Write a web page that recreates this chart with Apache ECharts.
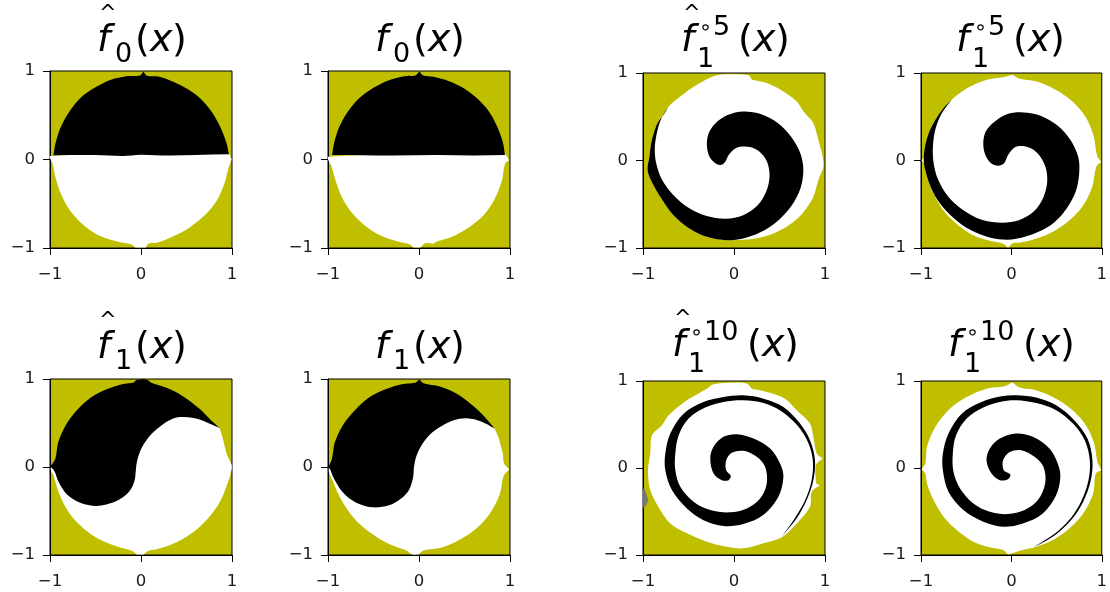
<!DOCTYPE html>
<html>
<head>
<meta charset="utf-8">
<title>spirals</title>
<script src="https://cdn.jsdelivr.net/npm/echarts@6/dist/echarts.min.js"></script>
<style>
  html, body { margin: 0; padding: 0; background: #fff; }
  #main { width: 1110px; height: 592px; }
</style>
</head>
<body>
<div id="main"></div>
<script>
// tick labels shared by all panels
const ticks = [-1, 0, 1];

// outlines, [x, y] in axis units
// a point typed twice is a sharp corner
const f0HatDisc = [[-.995,.04],[-.97,-.05],[-.94,-.2],[-.875,-.4],[-.77,-.59],[-.62,-.75],[-.45,-.865],[-.25,-.93],[-.105,-.96],[-.064,-.995],[-.064,-.995],[.053,-.995],[.053,-.995],[.083,-.95],[.174,-.94],[.35,-.87],[.53,-.77],[.7,-.63],[.83,-.47],[.92,-.26],[.965,-.085],[.995,0],[.995,0],[.967,.07],[.967,.07]];
const f0HatBlack = [[-.963,.047],[-.963,.047],[-.935,.2],[-.875,.38],[-.78,.55],[-.66,.7],[-.5,.815],[-.33,.9],[-.16,.94],[-.01,.95],[.028,.995],[.028,.995],[.064,.947],[.2,.935],[.36,.875],[.52,.79],[.66,.68],[.78,.535],[.87,.37],[.935,.2],[.967,.058],[.967,.058],[.6,.05],[.3,.045],[0,.055],[-.2,.04],[-.5,.05]];

const f0Disc = [[-.995,.03],[-.96,-.08],[-.92,-.23],[-.85,-.42],[-.74,-.6],[-.59,-.75],[-.41,-.865],[-.22,-.93],[-.1,-.96],[-.06,-.995],[-.06,-.995],[.013,-.995],[.013,-.995],[.068,-.945],[.16,-.95],[.2,-.925],[.37,-.87],[.55,-.765],[.71,-.63],[.83,-.45],[.91,-.24],[.945,-.05],[.99,-.008],[.99,-.008],[.945,.07],[.945,.07]];
const f0Black = [[-.955,.05],[-.955,.05],[-.93,.2],[-.87,.38],[-.775,.55],[-.66,.69],[-.5,.81],[-.33,.895],[-.16,.94],[-.04,.95],[.005,.995],[.005,.995],[.045,.95],[.16,.935],[.33,.885],[.5,.8],[.65,.68],[.77,.54],[.86,.37],[.92,.2],[.945,.05],[.945,.05],[.6,.045],[.2,.05],[-.3,.045]];

const f1HatDisc = [[.864,.442],[.864,.442],[.9,.32],[.945,.14],[.995,.025],[.995,-.03],[.94,-.22],[.86,-.41],[.73,-.59],[.56,-.75],[.36,-.87],[.17,-.935],[.083,-.951],[.028,-.995],[.028,-.995],[-.046,-.995],[-.046,-.995],[-.101,-.951],[-.27,-.9],[-.46,-.82],[-.64,-.69],[-.79,-.52],[-.9,-.3],[-.96,-.1],[-.99,-.013],[-.817,.27],[-.45,.727],[.028,.897],[.505,.689]];
const f1HatBlack = [[-.995,.005],[-.995,.005],[-.94,.1],[-.91,.28],[-.83,.47],[-.71,.64],[-.55,.79],[-.37,.885],[-.18,.945],[-.08,.96],[-.046,.992],[.064,.992],[.119,.954],[.28,.9],[.46,.805],[.65,.655],[.76,.54],[.864,.442],[.864,.442],[.725,.507],[.578,.556],[.431,.567],[.33,.54],[.22,.47],[.12,.38],[.05,.29],[-.01,.18],[-.045,.06],[-.058,-.05],[-.07,-.15],[-.11,-.25],[-.18,-.33],[-.3,-.4],[-.486,-.442],[-.66,-.41],[-.81,-.315],[-.905,-.17],[-.95,-.05]];

const f1Disc = [[.828,.439],[.828,.439],[.875,.33],[.92,.155],[.935,.04],[.993,-.027],[.993,-.027],[.93,-.1],[.89,-.3],[.79,-.51],[.64,-.69],[.44,-.83],[.25,-.915],[.05,-.95],[-.005,-.995],[-.005,-.995],[-.079,-.992],[-.133,-.951],[-.33,-.875],[-.53,-.75],[-.7,-.6],[-.85,-.38],[-.95,-.15],[-.991,-.015],[-.865,.27],[-.46,.76],[.013,.875],[.525,.686]];
const f1Black = [[-.993,.004],[-.993,.004],[-.956,.1],[-.925,.28],[-.84,.47],[-.71,.64],[-.55,.79],[-.36,.885],[-.19,.94],[-.042,.958],[.005,.996],[.005,.996],[.049,.951],[.23,.915],[.42,.83],[.6,.69],[.72,.57],[.828,.439],[.828,.439],[.689,.515],[.525,.553],[.38,.53],[.24,.46],[.12,.37],[.03,.25],[-.03,.12],[-.055,0],[-.065,-.12],[-.11,-.26],[-.2,-.36],[-.33,-.435],[-.517,-.458],[-.7,-.4],[-.84,-.285],[-.935,-.13],[-.974,-.034]];

const f15HatDisc = [[-.207,.969],[-.005,.985],[.159,.973],[.196,.924],[.196,.924],[.36,.885],[.543,.79],[.69,.675],[.764,.56],[.872,.426],[.927,.235],[.974,.044],[.982,-.07],[.927,-.224],[.872,-.415],[.78,-.568],[.653,-.702],[.47,-.816],[.287,-.881],[.141,-.904],[-.08,-.91],[-.29,-.875],[-.5,-.77],[-.67,-.62],[-.8,-.43],[-.9,-.25],[-.95,-.11],[-.93,.04],[-.91,.2],[-.88,.32],[-.84,.43],[-.77,.53],[-.718,.618],[-.59,.732],[-.408,.866]];
const f15HatBlack = [[-.298,.197],[-.275,.32],[-.2,.43],[-.07,.52],[.1,.56],[.3,.53],[.48,.43],[.63,.27],[.73,.08],[.762,-.109],[.73,-.32],[.63,-.52],[.48,-.69],[.29,-.82],[.1,-.89],[-.08,-.91],[-.29,-.875],[-.5,-.77],[-.67,-.62],[-.8,-.43],[-.9,-.25],[-.95,-.11],[-.93,.04],[-.91,.2],[-.88,.32],[-.84,.43],[-.77,.53],[-.718,.618],[-.718,.618],[-.79,.5],[-.84,.35],[-.87,.15],[-.855,-.03],[-.79,-.22],[-.67,-.39],[-.5,-.54],[-.3,-.635],[-.09,-.665],[.1,-.625],[.26,-.51],[.355,-.35],[.39,-.19],[.375,-.05],[.32,.06],[.23,.135],[.122,.159],[.02,.14],[-.06,.06],[-.1,-.02],[-.152,-.052],[-.225,-.015],[-.28,.07]];

const f15Disc = [[.011,.98],[.011,.98],[.092,.935],[.27,.905],[.48,.815],[.67,.68],[.82,.5],[.91,.28],[.95,.05],[.996,-.013],[.996,-.013],[.94,-.07],[.895,-.3],[.79,-.52],[.64,-.685],[.46,-.815],[.27,-.895],[.09,-.94],[.018,-.945],[-.037,-.996],[-.037,-.996],[-.092,-.95],[-.25,-.915],[-.44,-.845],[-.62,-.71],[-.76,-.56],[-.87,-.36],[-.935,-.18],[-.96,-.04],[-.996,0],[-.996,0],[-.955,.06],[-.925,.24],[-.84,.46],[-.69,.665],[-.5,.82],[-.28,.92],[-.08,.955]];
const f15Black = [[-.311,.197],[-.285,.33],[-.19,.44],[-.05,.53],[.13,.55],[.33,.51],[.51,.4],[.65,.24],[.74,.04],[.75,-.15],[.71,-.36],[.61,-.55],[.47,-.71],[.3,-.815],[.12,-.88],[-.04,-.905],[-.24,-.88],[-.45,-.795],[-.63,-.665],[-.79,-.49],[-.89,-.31],[-.95,-.12],[-.97,.01],[-.955,.16],[-.915,.31],[-.84,.465],[-.75,.6],[-.659,.694],[-.659,.694],[-.77,.54],[-.84,.36],[-.868,.16],[-.86,-.03],[-.81,-.22],[-.7,-.41],[-.535,-.565],[-.32,-.68],[-.1,-.71],[.09,-.68],[.25,-.58],[.35,-.43],[.395,-.26],[.385,-.1],[.33,.03],[.24,.125],[.13,.165],[.035,.15],[-.035,.065],[-.08,-.03],[-.147,-.059],[-.225,-.03],[-.29,.07]];

const f110HatDisc = [[-.225,.962],[-.005,.981],[.141,.969],[.196,.912],[.196,.912],[.36,.874],[.561,.797],[.689,.663],[.835,.511],[.872,.358],[.909,.166],[.974,.109],[.974,.109],[.901,.033],[.901,-.178],[.901,-.178],[.945,-.197],[.945,-.197],[.854,-.273],[.835,-.446],[.689,-.637],[.525,-.797],[.324,-.866],[.104,-.923],[-.079,-.905],[-.298,-.847],[-.517,-.751],[-.7,-.637],[-.81,-.484],[-.92,-.254],[-.945,-.025],[-.92,.166],[-.901,.377],[-.792,.491],[-.718,.606],[-.517,.778],[-.298,.912]];
const f110HatBlack = [[-.261,.109],[-.225,.243],[-.115,.358],[.031,.388],[.214,.338],[.397,.224],[.506,.052],[.543,-.101],[.488,-.331],[.32,-.541],[.104,-.644],[-.115,-.667],[-.335,-.6],[-.517,-.465],[-.682,-.254],[-.755,-.025],[-.755,.166],[-.7,.396],[-.554,.625],[-.335,.759],[-.115,.816],[.104,.836],[.324,.797],[.543,.702],[.726,.511],[.835,.319],[.89,.09],[.872,-.14],[.799,-.369],[.689,-.579],[.525,-.79],[.525,-.79],[.668,-.579],[.782,-.369],[.853,-.14],[.866,.09],[.812,.3],[.695,.491],[.524,.65],[.324,.746],[.104,.778],[-.115,.759],[-.316,.694],[-.499,.568],[-.608,.377],[-.645,.166],[-.645,-.025],[-.59,-.216],[-.444,-.388],[-.261,-.484],[-.042,-.51],[.141,-.465],[.287,-.35],[.36,-.178],[.342,.013],[.25,.128],[.104,.197],[-.024,.174],[-.086,.09],[-.086,-.025],[-.035,-.09],[-.06,-.14],[-.133,-.14],[-.225,-.063]];
const f110HatSpeck = [[-.995,-.235],[-.945,-.369],[-.995,-.46]];

const f110Disc = [[.011,.985],[.011,.985],[.092,.924],[.275,.893],[.495,.797],[.678,.663],[.824,.491],[.916,.281],[.952,.071],[.996,-.025],[.996,-.025],[.934,-.063],[.905,-.293],[.795,-.522],[.641,-.694],[.458,-.828],[.275,-.904],[.092,-.95],[-.037,-.995],[-.037,-.995],[-.092,-.943],[-.238,-.912],[-.421,-.847],[-.604,-.713],[-.751,-.56],[-.861,-.369],[-.934,-.178],[-.952,-.063],[-.996,-.013],[-.996,-.013],[-.952,.052],[-.934,.243],[-.842,.472],[-.678,.683],[-.495,.816],[-.275,.912],[-.073,.939]];
const f110Black = [[-.275,.09],[-.238,.224],[-.128,.338],[.055,.396],[.238,.358],[.421,.224],[.513,.052],[.542,-.101],[.495,-.312],[.348,-.522],[.128,-.637],[-.092,-.675],[-.311,-.618],[-.531,-.484],[-.696,-.273],[-.758,-.025],[-.758,.166],[-.696,.396],[-.549,.625],[-.33,.759],[-.11,.824],[.055,.836],[.275,.809],[.495,.72],[.696,.549],[.842,.338],[.897,.09],[.879,-.14],[.795,-.388],[.678,-.579],[.531,-.732],[.385,-.836],[.238,-.912],[.238,-.912],[.378,-.824],[.52,-.72],[.665,-.566],[.778,-.37],[.853,-.14],[.868,.09],[.812,.319],[.682,.511],[.495,.665],[.275,.746],[.055,.778],[-.128,.759],[-.311,.694],[-.494,.568],[-.612,.377],[-.648,.166],[-.641,-.044],[-.568,-.235],[-.421,-.407],[-.238,-.503],[-.037,-.53],[.147,-.484],[.293,-.369],[.374,-.178],[.355,.013],[.256,.128],[.11,.205],[-.018,.185],[-.092,.09],[-.084,-.025],[-.011,-.075],[-.037,-.128],[-.128,-.14],[-.22,-.063]];

const YELLOW = '#bfbf00';

// grid box, title pen positions and what each panel shows
const panels = [
  {left: 50,  top: 71,  w: 182, h: 177, disc: f0HatDisc,   black: f0HatBlack,   hat: true,  sub: '0', sup: '',   base: 41,  fx: 97,  px: 135},
  {left: 328, top: 71,  w: 182, h: 177, disc: f0Disc,      black: f0Black,      hat: false, sub: '0', sup: '',   base: 41,  fx: 375, px: 413},
  {left: 643, top: 73,  w: 182, h: 175, disc: f15HatDisc,  black: f15HatBlack,  hat: true,  sub: '1', sup: '5',  base: 41,  fx: 681, px: 738},
  {left: 921, top: 73,  w: 182, h: 175, disc: f15Disc,     black: f15Black,     hat: false, sub: '1', sup: '5',  base: 41,  fx: 956, px: 1013},
  {left: 50,  top: 379, w: 182, h: 176, disc: f1HatDisc,   black: f1HatBlack,   hat: true,  sub: '1', sup: '',   base: 348, fx: 97,  px: 135},
  {left: 328, top: 379, w: 182, h: 176, disc: f1Disc,      black: f1Black,      hat: false, sub: '1', sup: '',   base: 348, fx: 375, px: 413},
  {left: 643, top: 381, w: 182, h: 174, disc: f110HatDisc, black: f110HatBlack, hat: true,  sub: '1', sup: '10', base: 346, fx: 672, px: 747, speck: f110HatSpeck},
  {left: 921, top: 381, w: 182, h: 174, disc: f110Disc,    black: f110Black,    hat: false, sub: '1', sup: '10', base: 346, fx: 948, px: 1023}
];

function polygonSeries(points, color, idx) {
  return {
    type: 'custom',
    coordinateSystem: 'cartesian2d',
    xAxisIndex: idx,
    yAxisIndex: idx,
    clip: true,
    silent: true,
    data: points,
    renderItem: function (params, api) {
      if (params.dataIndex !== 0) return null;
      return {
        type: 'polygon',
        shape: {points: points.map(p => api.coord(p)), smooth: 0.33},
        style: {fill: color}
      };
    }
  };
}

function textItem(text, x, y, size, italic) {
  return {
    type: 'text',
    x: x,
    y: y,
    z: 100,
    style: {
      text: text,
      fill: '#000',
      verticalAlign: 'middle',
      font: (italic ? 'italic ' : '') + size + 'px "DejaVu Sans"'
    }
  };
}

function titleItems(p) {
  const base = p.base;
  const items = [textItem('f', p.fx, base, 38, true)];
  if (p.hat) items.push(textItem('^', p.fx + 2, base - 26, 21, false));
  if (p.sup) {
    items.push(textItem(p.sub, p.fx + 16, base + 19, 27, false));
    items.push(textItem('\u2218', p.fx + 18, base - 12, 21, false));
    items.push(textItem(p.sup, p.fx + 32, base - 13, 27, false));
  } else {
    items.push(textItem(p.sub, p.fx + 18, base + 14, 27, false));
  }
  items.push(textItem('(', p.px, base, 38, false));
  items.push(textItem('x', p.px + 15, base, 38, true));
  items.push(textItem(')', p.px + 37, base, 38, false));
  return items;
}

const axisBase = {
  type: 'value',
  min: -1,
  max: 1,
  interval: 1,
  splitLine: {show: false},
  axisLine: {show: true, onZero: false, lineStyle: {color: '#000', width: 1}},
  axisTick: {show: true, length: 7, lineStyle: {color: '#000', width: 1}},
  axisLabel: {
    show: true,
    showMinLabel: true,
    showMaxLabel: true,
    color: '#1a1a1a',
    fontFamily: 'DejaVu Sans',
    fontSize: 16.5,
    formatter: v => ticks.includes(v) ? String(v).replace('-', '\u2212') : ''
  }
};

const grids = [], xAxes = [], yAxes = [], series = [], graphics = [];
panels.forEach((p, i) => {
  grids.push({
    left: p.left, top: p.top, width: p.w, height: p.h,
    show: true, backgroundColor: YELLOW, borderColor: '#000', borderWidth: 1
  });
  xAxes.push(Object.assign({}, axisBase, {
    gridIndex: i, position: 'bottom',
    axisLabel: Object.assign({}, axisBase.axisLabel, {margin: 18})
  }));
  yAxes.push(Object.assign({}, axisBase, {
    gridIndex: i, position: 'left',
    axisLabel: Object.assign({}, axisBase.axisLabel, {margin: 15, padding: [5, 0, 0, 0]})
  }));
  series.push(polygonSeries(p.disc, '#fff', i));
  series.push(polygonSeries(p.black, '#000', i));
  if (p.speck) series.push(polygonSeries(p.speck, '#77776a', i));
  graphics.push(...titleItems(p));
});

const chart = echarts.init(document.getElementById('main'));
chart.setOption({
  animation: false,
  backgroundColor: '#fff',
  grid: grids,
  xAxis: xAxes,
  yAxis: yAxes,
  series: series,
  graphic: graphics
});
window.addEventListener('resize', function () {
  chart.resize();
});
</script>
</body>
</html>
